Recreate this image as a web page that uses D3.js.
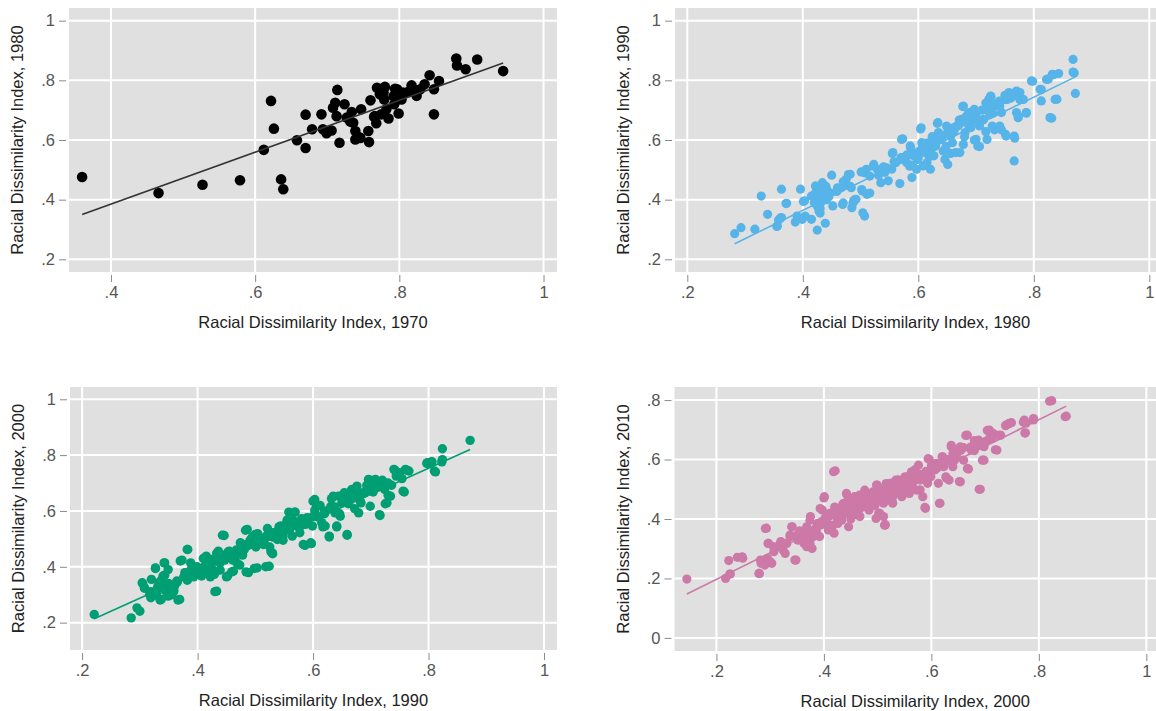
<!DOCTYPE html>
<html>
<head>
<meta charset="utf-8">
<script src="https://cdn.jsdelivr.net/npm/d3@7"></script>
<style>
  body { margin: 0; background: #fff; }
  svg { display: block; }
</style>
</head>
<body>
<div id="chart"></div>
<script>
// Data: [index earlier decade, index later decade].
const points1970to1980 = [
  [0.360,0.476],[0.466,0.422],[0.527,0.450],[0.579,0.465],[0.612,0.567],[0.622,0.731],[0.626,0.638],
  [0.636,0.468],[0.639,0.435],[0.658,0.599],[0.670,0.573],[0.670,0.685],[0.679,0.636],[0.692,0.686],
  [0.694,0.636],[0.700,0.627],[0.706,0.632],[0.708,0.708],[0.711,0.725],[0.713,0.680],[0.714,0.768],
  [0.717,0.591],[0.724,0.720],[0.727,0.675],[0.734,0.694],[0.736,0.658],[0.739,0.630],[0.739,0.602],
  [0.745,0.608],[0.747,0.703],[0.757,0.630],[0.758,0.593],[0.760,0.733],[0.766,0.680],[0.768,0.656],
  [0.769,0.775],[0.773,0.753],[0.780,0.778],[0.778,0.759],[0.775,0.686],[0.782,0.703],[0.785,0.672],
  [0.792,0.747],[0.794,0.772],[0.793,0.720],[0.799,0.689],[0.803,0.736],[0.805,0.759],[0.812,0.761],
  [0.817,0.783],[0.822,0.764],[0.824,0.748],[0.829,0.770],[0.835,0.787],[0.842,0.817],[0.848,0.770],
  [0.848,0.686],[0.855,0.798],[0.879,0.873],[0.880,0.850],[0.892,0.837],[0.908,0.870],[0.944,0.831],
  [0.732,0.662],[0.746,0.607],[0.699,0.623],[0.779,0.736],[0.797,0.770],[0.765,0.678]
];

const points1980to1990 = [
  [0.282,0.286],[0.293,0.306],[0.317,0.301],[0.328,0.412],[0.339,0.351],[0.356,0.312],[0.358,0.332],
  [0.363,0.435],[0.363,0.340],[0.372,0.388],[0.387,0.325],[0.390,0.345],[0.396,0.435],[0.399,0.334],
  [0.403,0.396],[0.404,0.345],[0.415,0.334],[0.415,0.412],[0.422,0.446],[0.422,0.423],[0.425,0.400],
  [0.425,0.379],[0.425,0.298],[0.428,0.362],[0.431,0.446],[0.431,0.390],[0.433,0.423],[0.434,0.457],
  [0.437,0.412],[0.439,0.321],[0.441,0.435],[0.447,0.423],[0.450,0.482],[0.452,0.379],[0.459,0.429],
  [0.466,0.440],[0.469,0.384],[0.472,0.451],[0.475,0.468],[0.482,0.485],[0.484,0.440],[0.485,0.373],
  [0.488,0.396],[0.492,0.401],[0.501,0.493],[0.503,0.429],[0.504,0.356],[0.507,0.345],[0.510,0.502],
  [0.511,0.418],[0.516,0.479],[0.523,0.518],[0.529,0.502],[0.535,0.457],[0.542,0.491],[0.548,0.463],
  [0.554,0.502],[0.556,0.558],[0.561,0.524],[0.568,0.454],[0.570,0.541],[0.573,0.604],[0.580,0.524],
  [0.586,0.580],[0.589,0.474],[0.592,0.547],[0.597,0.502],[0.599,0.535],[0.602,0.563],[0.605,0.641],
  [0.606,0.591],[0.608,0.513],[0.611,0.558],[0.615,0.524],[0.618,0.580],[0.621,0.502],[0.624,0.602],
  [0.627,0.547],[0.630,0.580],[0.634,0.658],[0.635,0.625],[0.640,0.602],[0.643,0.563],[0.646,0.535],
  [0.649,0.647],[0.651,0.518],[0.656,0.613],[0.659,0.591],[0.662,0.630],[0.665,0.558],[0.668,0.647],
  [0.672,0.558],[0.675,0.669],[0.678,0.714],[0.678,0.585],[0.681,0.625],[0.684,0.658],[0.687,0.692],
  [0.691,0.641],[0.694,0.669],[0.697,0.703],[0.700,0.602],[0.703,0.580],[0.706,0.647],[0.713,0.669],
  [0.716,0.703],[0.719,0.602],[0.722,0.736],[0.724,0.686],[0.725,0.747],[0.728,0.647],[0.732,0.714],
  [0.738,0.725],[0.741,0.647],[0.744,0.692],[0.751,0.619],[0.754,0.736],[0.757,0.759],[0.763,0.747],
  [0.766,0.613],[0.766,0.530],[0.770,0.764],[0.770,0.692],[0.773,0.675],[0.776,0.759],[0.782,0.736],
  [0.787,0.692],[0.796,0.798],[0.811,0.770],[0.813,0.731],[0.822,0.803],[0.828,0.675],[0.832,0.820],
  [0.837,0.736],[0.843,0.823],[0.868,0.870],[0.868,0.828],[0.872,0.756],
  [0.355,0.310],[0.361,0.338],[0.371,0.387],[0.401,0.394],[0.421,0.417],[0.424,0.383],[0.430,0.355],
  [0.436,0.422],[0.427,0.400],[0.441,0.400],[0.459,0.428],[0.470,0.389],[0.479,0.484],[0.482,0.445],
  [0.487,0.389],[0.490,0.400],[0.502,0.434],[0.507,0.490],[0.516,0.422],[0.522,0.512],[0.533,0.496],
  [0.545,0.507],[0.571,0.535],[0.585,0.512],[0.591,0.557],
  [0.531,0.482],[0.540,0.510],[0.555,0.555],[0.558,0.527],[0.571,0.602],[0.578,0.544],[0.587,0.572],
  [0.590,0.516],[0.604,0.637],[0.607,0.583],[0.619,0.544],[0.624,0.611],[0.633,0.656],[0.636,0.600],
  [0.648,0.578],[0.651,0.628],[0.656,0.555],[0.665,0.645],[0.671,0.667],[0.677,0.712],[0.680,0.611],
  [0.683,0.679],[0.688,0.645],[0.694,0.696],[0.697,0.600],[0.706,0.578],[0.700,0.667],[0.712,0.667],
  [0.717,0.628],[0.717,0.724],[0.726,0.746],[0.729,0.690],[0.732,0.634],[0.741,0.712],[0.744,0.634],
  [0.749,0.735],[0.752,0.613],[0.758,0.752],[0.767,0.757],[0.767,0.606],[0.773,0.757],[0.773,0.679],
  [0.776,0.735],[0.787,0.690],[0.798,0.797],[0.813,0.769],[0.825,0.804],[0.831,0.673],[0.834,0.819],
  [0.840,0.737],[0.870,0.825],
  [0.425,0.415],[0.430,0.430],[0.435,0.400],[0.420,0.390],[0.430,0.370],[0.440,0.445],[0.445,0.410],
  [0.460,0.440],[0.470,0.460],[0.610,0.570],[0.620,0.560],[0.630,0.590],[0.640,0.610],[0.650,0.620],
  [0.660,0.640],[0.670,0.650],[0.680,0.660],[0.690,0.650],[0.700,0.680],[0.710,0.700],[0.720,0.700],
  [0.730,0.720],[0.740,0.730],[0.750,0.750],[0.760,0.740],[0.770,0.750],[0.580,0.550],[0.600,0.540],
  [0.615,0.590],[0.625,0.575],[0.635,0.620]
];

const points1990to2000 = [
  [0.221,0.229],[0.285,0.217],[0.295,0.253],[0.300,0.241],[0.304,0.343],[0.308,0.325],[0.317,0.301],
  [0.319,0.289],[0.327,0.396],[0.330,0.319],[0.333,0.343],[0.337,0.283],[0.340,0.367],[0.343,0.414],
  [0.345,0.313],[0.349,0.390],[0.349,0.295],[0.354,0.319],[0.359,0.313],[0.364,0.349],[0.369,0.283],
  [0.373,0.424],[0.378,0.379],[0.383,0.462],[0.383,0.355],[0.388,0.414],[0.391,0.379],[0.397,0.390],
  [0.404,0.384],[0.407,0.367],[0.412,0.402],[0.415,0.438],[0.420,0.379],[0.423,0.426],[0.426,0.390],
  [0.429,0.373],[0.433,0.313],[0.436,0.456],[0.439,0.414],[0.446,0.512],[0.449,0.444],[0.452,0.367],
  [0.455,0.456],[0.462,0.384],[0.465,0.438],[0.468,0.414],[0.471,0.456],[0.474,0.486],[0.481,0.462],
  [0.486,0.534],[0.488,0.379],[0.492,0.498],[0.497,0.480],[0.500,0.516],[0.503,0.396],[0.506,0.498],
  [0.514,0.480],[0.519,0.510],[0.524,0.402],[0.529,0.450],[0.532,0.522],[0.538,0.498],[0.544,0.546],
  [0.548,0.510],[0.553,0.534],[0.558,0.558],[0.564,0.510],[0.569,0.596],[0.571,0.546],[0.577,0.522],
  [0.583,0.480],[0.587,0.552],[0.590,0.576],[0.596,0.486],[0.599,0.546],[0.603,0.641],[0.606,0.617],
  [0.610,0.581],[0.615,0.558],[0.621,0.546],[0.628,0.510],[0.631,0.617],[0.635,0.653],[0.638,0.593],
  [0.641,0.546],[0.644,0.653],[0.647,0.581],[0.654,0.665],[0.659,0.516],[0.663,0.635],[0.667,0.677],
  [0.673,0.653],[0.676,0.689],[0.679,0.593],[0.683,0.629],[0.689,0.665],[0.696,0.713],[0.699,0.617],
  [0.702,0.677],[0.708,0.713],[0.715,0.587],[0.718,0.695],[0.724,0.677],[0.728,0.629],[0.734,0.653],
  [0.740,0.749],[0.744,0.725],[0.750,0.737],[0.756,0.671],[0.760,0.749],[0.766,0.743],[0.798,0.773],
  [0.804,0.775],[0.810,0.743],[0.824,0.823],[0.824,0.784],[0.872,0.853],
  [0.305,0.340],[0.308,0.323],[0.319,0.311],[0.320,0.355],[0.327,0.394],[0.325,0.299],[0.331,0.329],
  [0.335,0.281],[0.337,0.352],[0.342,0.414],[0.343,0.370],[0.348,0.305],[0.351,0.329],[0.356,0.317],
  [0.366,0.281],[0.365,0.346],[0.370,0.421],[0.376,0.364],[0.382,0.462],[0.382,0.352],[0.388,0.388],
  [0.393,0.364],[0.399,0.400],[0.405,0.370],[0.410,0.430],[0.413,0.400],[0.422,0.364],[0.424,0.424],
  [0.430,0.311],[0.433,0.448],[0.439,0.388],[0.443,0.513],[0.447,0.424],[0.450,0.364],[0.453,0.454],
  [0.459,0.382],[0.461,0.424],[0.467,0.460],[0.473,0.406],[0.476,0.483],[0.478,0.442],[0.483,0.531],
  [0.484,0.382],[0.487,0.477],[0.495,0.507],[0.498,0.394],[0.501,0.471],[0.504,0.519],[0.515,0.489],
  [0.518,0.400],[0.521,0.537],[0.527,0.454],[0.530,0.507],[0.541,0.543],[0.547,0.519],[0.555,0.567],
  [0.558,0.596],
  [0.513,0.495],[0.525,0.471],[0.530,0.447],[0.536,0.513],[0.542,0.543],[0.548,0.495],[0.554,0.555],
  [0.559,0.531],[0.565,0.566],[0.568,0.596],[0.577,0.543],[0.580,0.572],[0.586,0.477],[0.588,0.566],
  [0.597,0.483],[0.600,0.635],[0.603,0.602],[0.609,0.578],[0.612,0.620],[0.617,0.543],[0.620,0.590],
  [0.628,0.507],[0.632,0.644],[0.638,0.614],[0.641,0.543],[0.646,0.590],[0.649,0.650],[0.659,0.513],
  [0.661,0.626],[0.664,0.668],[0.672,0.608],[0.675,0.680],[0.681,0.638],[0.687,0.662],[0.693,0.692],
  [0.699,0.710],[0.704,0.668],[0.713,0.686],[0.716,0.584],[0.722,0.698],[0.725,0.626],[0.730,0.656],
  [0.736,0.692],[0.742,0.746],[0.748,0.734],[0.754,0.716],[0.758,0.668],[0.762,0.746],[0.797,0.770],
  [0.806,0.776],[0.812,0.740],[0.823,0.776],
  [0.330,0.310],[0.340,0.330],[0.350,0.340],[0.355,0.300],[0.360,0.330],[0.390,0.370],[0.400,0.390],
  [0.410,0.380],[0.420,0.410],[0.430,0.420],[0.440,0.430],[0.450,0.440],[0.460,0.450],[0.480,0.470],
  [0.490,0.490],[0.500,0.490],[0.510,0.500],[0.520,0.510],[0.530,0.520],[0.540,0.530],[0.550,0.540],
  [0.560,0.550],[0.570,0.560],[0.580,0.550],[0.590,0.560],[0.600,0.580],[0.620,0.600],[0.630,0.610],
  [0.650,0.630],[0.660,0.640],[0.670,0.650],[0.690,0.670],[0.700,0.690],[0.710,0.700],[0.720,0.710],
  [0.730,0.700]
];

const points2000to2010 = [
  [0.145,0.198],[0.217,0.200],[0.225,0.215],[0.223,0.260],[0.239,0.271],[0.249,0.268],[0.280,0.217],
  [0.283,0.251],[0.293,0.369],[0.295,0.268],[0.297,0.318],[0.303,0.251],[0.307,0.290],[0.314,0.307],
  [0.320,0.324],[0.324,0.296],[0.331,0.318],[0.337,0.346],[0.341,0.374],[0.348,0.262],[0.351,0.329],
  [0.358,0.352],[0.363,0.318],[0.368,0.374],[0.371,0.335],[0.375,0.408],[0.378,0.301],[0.382,0.363],
  [0.388,0.385],[0.392,0.341],[0.397,0.430],[0.401,0.475],[0.405,0.380],[0.409,0.408],[0.414,0.363],
  [0.421,0.562],[0.419,0.352],[0.426,0.385],[0.433,0.408],[0.437,0.453],[0.443,0.481],[0.446,0.374],
  [0.450,0.419],[0.453,0.453],[0.460,0.430],[0.463,0.475],[0.467,0.408],[0.473,0.441],[0.477,0.464],
  [0.484,0.430],[0.490,0.453],[0.497,0.402],[0.499,0.514],[0.504,0.419],[0.507,0.475],[0.511,0.408],
  [0.514,0.380],[0.518,0.497],[0.523,0.520],[0.528,0.453],[0.531,0.486],[0.538,0.531],[0.545,0.475],
  [0.548,0.509],[0.555,0.542],[0.559,0.486],[0.565,0.520],[0.569,0.565],[0.573,0.497],[0.579,0.531],
  [0.584,0.475],[0.589,0.436],[0.593,0.520],[0.596,0.601],[0.599,0.542],[0.606,0.565],[0.613,0.520],
  [0.616,0.453],[0.620,0.609],[0.623,0.576],[0.627,0.542],[0.633,0.531],[0.637,0.643],[0.640,0.576],
  [0.647,0.609],[0.654,0.525],[0.654,0.643],[0.660,0.598],[0.667,0.682],[0.669,0.568],[0.674,0.632],
  [0.681,0.654],[0.688,0.665],[0.691,0.500],[0.695,0.598],[0.698,0.643],[0.705,0.665],[0.708,0.699],
  [0.715,0.688],[0.722,0.632],[0.729,0.682],[0.739,0.716],[0.745,0.722],[0.749,0.724],[0.773,0.733],
  [0.775,0.690],[0.776,0.722],[0.790,0.738],[0.824,0.798],[0.851,0.746],
  [0.418,0.559],[0.400,0.471],[0.393,0.435],[0.374,0.396],[0.340,0.374],[0.291,0.368],[0.296,0.318],
  [0.306,0.307],[0.319,0.318],[0.328,0.284],[0.346,0.262],[0.279,0.217],[0.248,0.273],[0.226,0.215],
  [0.282,0.262],[0.290,0.245],[0.300,0.256],[0.337,0.340],[0.350,0.346],[0.356,0.329],[0.365,0.351],
  [0.368,0.307],[0.374,0.318],[0.380,0.340],[0.386,0.357],[0.393,0.379],[0.402,0.402],[0.408,0.363],
  [0.411,0.419],[0.417,0.379],[0.423,0.407],[0.430,0.424],[0.433,0.396],[0.439,0.447],[0.442,0.486],
  [0.445,0.419],[0.448,0.458],[0.454,0.435],[0.457,0.475],[0.463,0.447],[0.466,0.480],[0.473,0.463],
  [0.476,0.497],[0.482,0.452],[0.485,0.475],[0.491,0.491],[0.497,0.463],[0.498,0.514],[0.503,0.486],
  [0.510,0.469],[0.513,0.379],[0.516,0.519],[0.522,0.497],[0.528,0.475],[0.534,0.531],[0.540,0.503],
  [0.514,0.381],[0.502,0.420],[0.511,0.453],[0.520,0.487],[0.530,0.509],[0.527,0.459],[0.539,0.531],
  [0.545,0.487],[0.551,0.542],[0.560,0.520],[0.563,0.559],[0.576,0.581],[0.579,0.498],[0.588,0.439],
  [0.588,0.542],[0.594,0.603],[0.600,0.564],[0.609,0.587],[0.615,0.453],[0.621,0.609],[0.628,0.537],
  [0.637,0.648],[0.643,0.598],[0.652,0.526],[0.655,0.631],[0.664,0.681],[0.667,0.570],[0.673,0.642],
  [0.680,0.664],[0.689,0.500],[0.692,0.648],[0.698,0.598],[0.704,0.698],[0.713,0.670],[0.719,0.633],
  [0.725,0.681],[0.738,0.714],[0.744,0.720],[0.771,0.726],[0.774,0.689],[0.790,0.733],[0.820,0.796],
  [0.849,0.744],
  [0.445,0.440],[0.455,0.450],[0.465,0.430],[0.470,0.455],[0.480,0.440],[0.485,0.460],[0.495,0.445],
  [0.460,0.415],[0.450,0.400],[0.440,0.420],[0.430,0.430],[0.425,0.410],[0.500,0.470],[0.510,0.490],
  [0.520,0.470],[0.530,0.500],[0.540,0.520],[0.550,0.530],[0.560,0.510],[0.570,0.540],[0.580,0.550],
  [0.590,0.560],[0.600,0.580],[0.610,0.570],[0.620,0.590],[0.630,0.600],[0.640,0.620],[0.650,0.630],
  [0.660,0.640],[0.680,0.630],[0.690,0.660],[0.700,0.660],[0.710,0.680],[0.375,0.350],[0.385,0.370],
  [0.395,0.390],[0.405,0.395],[0.360,0.330],[0.355,0.360],[0.370,0.360],[0.415,0.420],[0.420,0.440],
  [0.435,0.450],[0.475,0.470],[0.505,0.500],[0.515,0.510],[0.525,0.520],[0.535,0.510],[0.545,0.500],
  [0.555,0.520]
];

// Tick values and axis titles of each panel.
const xTicksTop = [[0.4, 0.6, 0.8, 1], [0.2, 0.4, 0.6, 0.8, 1]];
const yTicksTop = [[0.2, 0.4, 0.6, 0.8, 1], [0.2, 0.4, 0.6, 0.8, 1]];
const xTicksBottom = [[0.2, 0.4, 0.6, 0.8, 1], [0.2, 0.4, 0.6, 0.8, 1]];
const yTicksBottom = [[0.2, 0.4, 0.6, 0.8, 1], [0, 0.2, 0.4, 0.6, 0.8]];
const xTitles = ["Racial Dissimilarity Index, 1970", "Racial Dissimilarity Index, 1980",
                 "Racial Dissimilarity Index, 1990", "Racial Dissimilarity Index, 2000"];
const yTitles = ["Racial Dissimilarity Index, 1980", "Racial Dissimilarity Index, 1990",
                 "Racial Dissimilarity Index, 2000", "Racial Dissimilarity Index, 2010"];

// Fitted lines: [intercept, slope].
const fitLines = [[0.037, 0.870], [-0.015, 0.948], [0.008, 0.931], [0.018, 0.895]];

const width = 1156;
const height = 711;

const svg = d3.select("#chart")
  .append("svg")
  .attr("width", width)
  .attr("height", height);

const fontFamily = "'Liberation Sans', Arial, sans-serif";

// Format ticks like ".4" and "1".
const tickFormat = (d) => (d === 0 ? "0" : d3.format(".1f")(d).replace(/^0/, "").replace(/\.0$/, ""));

/**
 * Renders one scatter panel with its fitted line.
 */
function ScatterPanel(data, fit, options) {
  const {
    frame: { left, top, right, bottom },
    xDomain,
    yDomain,
    xTicks,
    yTicks,
    color = "black",
    lineColor = color,
    radius = 4.5,
    xTitle = "",
    yTitle = "",
  } = options;

  const g = svg.append("g");

  const x = d3.scaleLinear().domain(xDomain).range([left, right]);
  const y = d3.scaleLinear().domain(yDomain).range([bottom, top]);

  // Plot region.
  g.append("rect")
    .attr("x", left)
    .attr("y", top)
    .attr("width", right - left)
    .attr("height", bottom - top)
    .attr("fill", "#e0e0e0");

  // White grid lines.
  g.selectAll("line.vgrid")
    .data(xTicks)
    .join("line")
    .attr("x1", (d) => x(d))
    .attr("x2", (d) => x(d))
    .attr("y1", top)
    .attr("y2", bottom)
    .attr("stroke", "#fff")
    .attr("stroke-width", 2);

  g.selectAll("line.hgrid")
    .data(yTicks)
    .join("line")
    .attr("x1", left)
    .attr("x2", right)
    .attr("y1", (d) => y(d))
    .attr("y2", (d) => y(d))
    .attr("stroke", "#fff")
    .attr("stroke-width", 2);

  // x-axis, detached a little below the plot region.
  const xAxis = g.append("g")
    .attr("transform", `translate(0, ${bottom + 3})`)
    .call(d3.axisBottom(x).tickValues(xTicks).tickSize(7).tickPadding(4).tickFormat(tickFormat));
  xAxis.select(".domain").remove();

  // y-axis.
  const yAxis = g.append("g")
    .attr("transform", `translate(${left - 3}, 0)`)
    .call(d3.axisLeft(y).tickValues(yTicks).tickSize(7).tickPadding(4).tickFormat(tickFormat));
  yAxis.select(".domain").remove();

  [xAxis, yAxis].forEach((axis) => {
    axis.selectAll(".tick line").attr("stroke", "#8a8a8a");
    axis.selectAll(".tick text")
      .attr("fill", "#555")
      .style("font-family", fontFamily)
      .style("font-size", "16.5px");
  });

  // Axis titles.
  g.append("text")
    .attr("x", (left + right) / 2)
    .attr("y", bottom + 56)
    .attr("text-anchor", "middle")
    .attr("fill", "#222")
    .style("font-family", fontFamily)
    .style("font-size", "16.5px")
    .text(xTitle);

  g.append("text")
    .attr("transform", `translate(${left - 46}, ${(top + bottom) / 2}) rotate(-90)`)
    .attr("text-anchor", "middle")
    .attr("fill", "#222")
    .style("font-family", fontFamily)
    .style("font-size", "16.5px")
    .text(yTitle);

  // Data points.
  g.selectAll("circle")
    .data(data)
    .join("circle")
    .attr("cx", (d) => x(d[0]))
    .attr("cy", (d) => y(d[1]))
    .attr("r", radius)
    .attr("fill", color);

  // Fitted line across the data range.
  const [a, b] = fit;
  const xExtent = d3.extent(data, (d) => d[0]);
  g.append("path")
    .datum(xExtent)
    .attr("fill", "none")
    .attr("stroke", lineColor)
    .attr("stroke-width", 1.6)
    .attr("d", d3.line().x((d) => x(d)).y((d) => y(a + b * d)));
}

ScatterPanel(points1970to1980, fitLines[0], {
  frame: { left: 69, top: 8, right: 557, bottom: 272 },
  xDomain: [0.3418, 1.0187],
  yDomain: [0.1575, 1.0425],
  xTicks: xTicksTop[0],
  yTicks: yTicksTop[0],
  color: "#000",
  lineColor: "#333",
  radius: 5.3,
  xTitle: xTitles[0],
  yTitle: yTitles[0],
});

ScatterPanel(points1980to1990, fitLines[1], {
  frame: { left: 675, top: 8, right: 1156, bottom: 272 },
  xDomain: [0.1787, 1.0116],
  yDomain: [0.1575, 1.0425],
  xTicks: xTicksTop[1],
  yTicks: yTicksTop[1],
  color: "#56b4e9",
  radius: 4.6,
  xTitle: xTitles[1],
  yTitle: yTitles[1],
});

ScatterPanel(points1990to2000, fitLines[2], {
  frame: { left: 70, top: 387, right: 557, bottom: 650 },
  xDomain: [0.179, 1.0225],
  yDomain: [0.102, 1.044],
  xTicks: xTicksBottom[0],
  yTicks: yTicksBottom[0],
  color: "#009e73",
  radius: 4.7,
  xTitle: xTitles[2],
  yTitle: yTitles[2],
});

ScatterPanel(points2000to2010, fitLines[3], {
  frame: { left: 674.5, top: 387, right: 1156, bottom: 651 },
  xDomain: [0.122, 1.018],
  yDomain: [-0.044, 0.844],
  xTicks: xTicksBottom[1],
  yTicks: yTicksBottom[1],
  color: "#cc79a7",
  radius: 4.6,
  xTitle: xTitles[3],
  yTitle: yTitles[3],
});
</script>
</body>
</html>
